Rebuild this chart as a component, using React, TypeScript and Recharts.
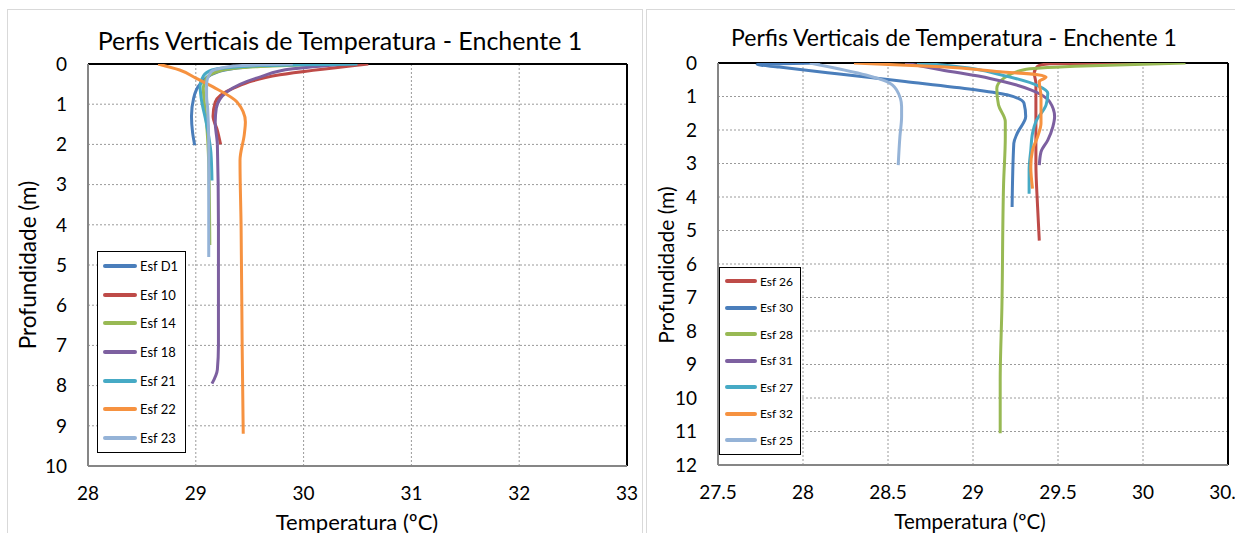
import {
  LineChart,
  Line,
  XAxis,
  YAxis,
  CartesianGrid,
  Legend,
  ReferenceLine,
} from "recharts";

// ---- Enchente 1, left panel (temperatura ºC / profundidade m) ----
const esfD1Temp = [30.1, 29.6, 29.2, 29.04, 28.98, 28.96, 28.97, 28.99];
const esfD1Depth = [0, 0.05, 0.2, 0.5, 0.85, 1.3, 1.7, 2.02];

const esf10Temp = [30.6, 29.78, 29.35, 29.18, 29.16, 29.2, 29.23];
const esf10Depth = [0, 0.27, 0.6, 0.95, 1.3, 1.65, 2.0];

const esf14Temp = [30.2, 29.6, 29.25, 29.1, 29.07, 29.08, 29.1, 29.12, 29.13];
const esf14Depth = [0, 0.06, 0.15, 0.35, 0.6, 1.0, 1.5, 2.5, 4.5];

const esf18Temp = [30.4, 29.9, 29.6, 29.29, 29.19, 29.18, 29.2, 29.21, 29.21, 29.2, 29.15];
const esf18Depth = [0, 0.12, 0.32, 0.69, 1.1, 1.45, 2.0, 4.0, 7.0, 7.6, 7.95];

const esf21Temp = [30.5, 29.6, 29.15, 29.07, 29.04, 29.05, 29.1, 29.14, 29.15];
const esf21Depth = [0, 0.04, 0.15, 0.3, 0.55, 0.85, 1.5, 2.2, 2.9];

const esf22Temp = [28.65, 28.85, 29.0, 29.16, 29.38, 29.46, 29.45, 29.41, 29.42, 29.43, 29.44];
const esf22Depth = [0, 0.15, 0.35, 0.57, 0.94, 1.44, 1.75, 2.4, 4.0, 7.0, 9.2];

const esf23Temp = [29.9, 29.35, 29.14, 29.1, 29.1, 29.11, 29.12, 29.12, 29.12];
const esf23Depth = [0, 0.05, 0.2, 0.5, 0.8, 1.1, 2.0, 3.5, 4.8];

// ---- Enchente 1, right panel ----
const esf26Temp = [30.0, 29.45, 29.38, 29.36, 29.37, 29.37, 29.37, 29.38, 29.39];
const esf26Depth = [0, 0.02, 0.1, 0.3, 0.6, 1.5, 3.0, 4.3, 5.3];

const esf30Temp = [28.1, 27.73, 27.86, 28.2, 28.6, 29.0, 29.2, 29.3, 29.31, 29.26, 29.24, 29.23];
const esf30Depth = [0, 0.04, 0.12, 0.32, 0.55, 0.79, 0.95, 1.2, 1.6, 2.1, 2.4, 4.3];

const esf28Temp = [30.25, 29.6, 29.3, 29.18, 29.14, 29.15, 29.19, 29.19, 29.18, 29.17, 29.16, 29.16];
const esf28Depth = [0, 0.1, 0.2, 0.46, 0.76, 1.25, 1.75, 2.2, 3.6, 7.3, 9.5, 11.05];

const esf31Temp = [28.6, 28.81, 29.1, 29.34, 29.45, 29.48, 29.47, 29.44, 29.4, 29.39];
const esf31Depth = [0, 0.2, 0.46, 0.8, 1.15, 1.6, 1.9, 2.3, 2.65, 3.05];

const esf27Temp = [28.67, 28.8, 29.2, 29.39, 29.44, 29.43, 29.37, 29.35, 29.34, 29.33, 29.33];
const esf27Depth = [0, 0.05, 0.4, 0.7, 0.9, 1.25, 1.75, 2.1, 2.6, 3.2, 3.9];

const esf32Temp = [28.3, 28.81, 29.16, 29.38, 29.43, 29.39, 29.4, 29.4, 29.38, 29.35, 29.34, 29.35];
const esf32Depth = [0, 0.11, 0.26, 0.35, 0.42, 0.55, 1.0, 1.8, 2.2, 2.6, 3.1, 3.75];

const esf25Temp = [28.04, 28.37, 28.49, 28.55, 28.58, 28.58, 28.57, 28.56];
const esf25Depth = [0, 0.36, 0.55, 0.8, 1.3, 1.6, 2.2, 3.05];

const leftXTicks = [28, 29, 30, 31, 32, 33];
const leftYTicks = [0, 1, 2, 3, 4, 5, 6, 7, 8, 9, 10];
const rightXTicks = [27.5, 28, 28.5, 29, 29.5, 30, 30.5];
const rightYTicks = [0, 1, 2, 3, 4, 5, 6, 7, 8, 9, 10, 11, 12];

const BLUE = "#4A7EBB";
const RED = "#BE4B48";
const GREEN = "#98B954";
const PURPLE = "#7D60A0";
const TEAL = "#46AAC5";
const ORANGE = "#F69240";
const LIGHT = "#95B3D7";

const zip = (temps: number[], depths: number[]) =>
  temps.map((t, i) => ({ t, d: depths[i] }));

const leftSeries = [
  { name: "Esf D1", color: BLUE, data: zip(esfD1Temp, esfD1Depth) },
  { name: "Esf 10", color: RED, data: zip(esf10Temp, esf10Depth) },
  { name: "Esf 14", color: GREEN, data: zip(esf14Temp, esf14Depth) },
  { name: "Esf 18", color: PURPLE, data: zip(esf18Temp, esf18Depth) },
  { name: "Esf 21", color: TEAL, data: zip(esf21Temp, esf21Depth) },
  { name: "Esf 22", color: ORANGE, data: zip(esf22Temp, esf22Depth) },
  { name: "Esf 23", color: LIGHT, data: zip(esf23Temp, esf23Depth) },
];

const rightSeries = [
  { name: "Esf 26", color: RED, data: zip(esf26Temp, esf26Depth) },
  { name: "Esf 30", color: BLUE, data: zip(esf30Temp, esf30Depth) },
  { name: "Esf 28", color: GREEN, data: zip(esf28Temp, esf28Depth) },
  { name: "Esf 31", color: PURPLE, data: zip(esf31Temp, esf31Depth) },
  { name: "Esf 27", color: TEAL, data: zip(esf27Temp, esf27Depth) },
  { name: "Esf 32", color: ORANGE, data: zip(esf32Temp, esf32Depth) },
  { name: "Esf 25", color: LIGHT, data: zip(esf25Temp, esf25Depth) },
];

const FONT = "Lato, 'Liberation Sans', sans-serif";

// legend keeps series order (recharts sorts the payload by name)
function LegendBox(props: any) {
  const { series, rowH, swatch, fontSize, boxW } = props;
  return (
    <div
      style={{
        width: boxW,
        border: "1.5px solid #000",
        background: "#fff",
        fontFamily: FONT,
        fontSize,
        boxSizing: "border-box",
        paddingLeft: 5,
      }}
    >
      {series.map((s: any) => (
        <div
          key={s.name}
          style={{ height: rowH, display: "flex", alignItems: "center" }}
        >
          <span
            style={{
              display: "inline-block",
              width: swatch,
              height: 4,
              background: s.color,
              borderRadius: 2,
              marginRight: 3,
            }}
          />
          <span>{s.name}</span>
        </div>
      ))}
    </div>
  );
}

function ProfileChart(props: any) {
  const {
    series,
    width,
    height,
    margin,
    xDomain,
    xTicks,
    yDomain,
    yTicks,
    legendPos,
    legendRow,
    legendSwatch,
    legendFont,
    legendW,
  } = props;
  return (
    <LineChart layout="vertical" width={width} height={height} margin={margin}>
      <CartesianGrid stroke="#9a9a9a" strokeDasharray="2 2" />
      <XAxis
        type="number"
        domain={xDomain}
        ticks={xTicks}
        interval={0}
        allowDataOverflow
        height={30}
        tickLine={false}
        tickSize={0}
        tickMargin={21}
        axisLine={{ stroke: "#868686", strokeWidth: 2 }}
        tick={{ fill: "#000", fontSize: 19, fontFamily: FONT }}
      />
      {/* in vertical layout the number Y axis already runs top -> bottom */}
      <YAxis
        type="number"
        dataKey="d"
        domain={yDomain}
        ticks={yTicks}
        interval={0}
        allowDataOverflow
        width={60}
        tickLine={false}
        tickSize={0}
        tickMargin={21}
        axisLine={{ stroke: "#868686", strokeWidth: 2 }}
        tick={{ fill: "#000", fontSize: 19, fontFamily: FONT }}
      />
      <ReferenceLine y={yDomain[0]} stroke="#000" strokeWidth={2} />
      <ReferenceLine x={xDomain[1]} stroke="#000" strokeWidth={2} />
      <Legend
        layout="vertical"
        align="center"
        verticalAlign="middle"
        wrapperStyle={{ left: legendPos.left, top: legendPos.top, width: "auto" }}
        content={() => (
          <LegendBox
            series={series}
            rowH={legendRow}
            swatch={legendSwatch}
            fontSize={legendFont}
            boxW={legendW}
          />
        )}
      />
      {series.map((s: any) => (
        <Line
          key={s.name}
          name={s.name}
          data={s.data}
          dataKey="t"
          type="monotoneY"
          stroke={s.color}
          strokeWidth={3}
          dot={false}
          isAnimationActive={false}
        />
      ))}
    </LineChart>
  );
}

export default function App() {
  const titleStyle: any = {
    position: "absolute",
    transform: "translate(-50%, -50%)",
    whiteSpace: "nowrap",
    fontFamily: FONT,
    color: "#000",
  };
  return (
    <div
      style={{
        position: "absolute",
        left: 0,
        top: 0,
        width: 1235,
        height: 533,
        overflow: "hidden",
        background: "#fff",
        fontFamily: FONT,
      }}
    >
      <div
        style={{
          position: "absolute",
          left: 7,
          top: 9,
          width: 634,
          height: 560,
          border: "1px solid #d9d9d9",
        }}
      />
      <div
        style={{
          position: "absolute",
          left: 646,
          top: 9,
          width: 620,
          height: 560,
          border: "1px solid #d9d9d9",
        }}
      />

      <div style={{ position: "absolute", left: 0, top: 0 }}>
        <ProfileChart
          series={leftSeries}
          width={640}
          height={533}
          margin={{ top: 64, left: 28, right: 13, bottom: 37 }}
          xDomain={[28, 33]}
          xTicks={leftXTicks}
          yDomain={[0, 10]}
          yTicks={leftYTicks}
          legendPos={{ left: 97, top: 251 }}
          legendRow={28.6}
          legendSwatch={34}
          legendFont={13}
          legendW={89}
        />
      </div>
      <div style={{ position: "absolute", left: 640, top: 0 }}>
        <ProfileChart
          series={rightSeries}
          width={595}
          height={533}
          margin={{ top: 63, left: 18, right: 7, bottom: 38 }}
          xDomain={[27.5, 30.5]}
          xTicks={rightXTicks}
          yDomain={[0, 12]}
          yTicks={rightYTicks}
          legendPos={{ left: 79, top: 267 }}
          legendRow={26.5}
          legendSwatch={32}
          legendFont={12}
          legendW={82}
        />
      </div>

      <div style={{ ...titleStyle, left: 340, top: 40, fontSize: 25 }}>
        Perfis Verticais de Temperatura - Enchente 1
      </div>
      <div style={{ ...titleStyle, left: 954, top: 37, fontSize: 23 }}>
        Perfis Verticais de Temperatura - Enchente 1
      </div>
      <div style={{ ...titleStyle, left: 357, top: 521, fontSize: 22 }}>
        Temperatura (ºC)
      </div>
      <div style={{ ...titleStyle, left: 970, top: 521, fontSize: 20.5 }}>
        Temperatura (ºC)
      </div>
      <div
        style={{
          ...titleStyle,
          left: 27,
          top: 265,
          fontSize: 22.5,
          transform: "translate(-50%, -50%) rotate(-90deg)",
        }}
      >
        Profundidade (m)
      </div>
      <div
        style={{
          ...titleStyle,
          left: 665,
          top: 265,
          fontSize: 21,
          transform: "translate(-50%, -50%) rotate(-90deg)",
        }}
      >
        Profundidade (m)
      </div>
    </div>
  );
}
